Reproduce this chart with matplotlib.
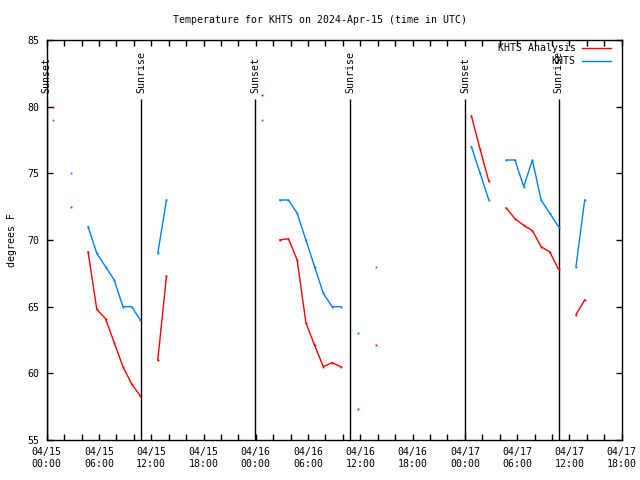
import numpy as np
import pandas as pd
import matplotlib
matplotlib.use("Agg")
import matplotlib.pyplot as plt
import matplotlib.dates as mdates

# hourly data, first point 2024-04-15 00:45 UTC (nan = missing)
nan = np.nan
times = pd.date_range("2024-04-15 00:45", periods=62, freq="h")

khts = [79, nan, 75, nan, 71, 69, 68, 67, 65, 65, 64, nan, 69, 73,
        nan, nan, nan, nan, nan, nan, nan, nan, nan, nan,
        79, nan, 73, 73, 72, 70, 68, 66, 65, 65, nan, 63, nan, 68,
        nan, nan, nan, nan, nan, nan, nan, nan, nan, nan,
        77, 75, 73, nan, 76, 76, 74, 76, 73, 72, 71, nan, 68, 73]

analysis = [80.0, nan, 72.5, nan, 69.1, 64.8, 64.1, 62.3, 60.5, 59.2, 58.3, nan, 61.0, 67.3,
            nan, nan, nan, nan, nan, nan, nan, nan, nan, nan,
            80.9, nan, 70.0, 70.1, 68.5, 63.8, 62.1, 60.5, 60.8, 60.5, nan, 57.3, nan, 62.1,
            nan, nan, nan, nan, nan, nan, nan, nan, nan, nan,
            79.3, 76.8, 74.4, nan, 72.4, 71.6, 71.1, 70.7, 69.5, 69.1, 67.8, nan, 64.4, 65.5]

sun_times = pd.to_datetime(["2024-04-15 00:01", "2024-04-15 10:49",
                            "2024-04-15 23:57", "2024-04-16 10:50",
                            "2024-04-17 00:03", "2024-04-17 10:46"])
sun_labels = ["Sunset", "Sunrise", "Sunset", "Sunrise", "Sunset", "Sunrise"]

font = "DejaVu Sans Mono"
fs = 7.1
plt.rcParams["font.family"] = font
plt.rcParams["font.size"] = fs

fig = plt.figure(figsize=(6.4, 4.8), dpi=100)
ax = fig.add_axes([46.7 / 640, 40 / 480, 575 / 640, 400 / 480])

# sunrise / sunset markers
ax.vlines(sun_times, 55, 80.55, color="black", lw=1.0)
for t, lab in zip(sun_times, sun_labels):
    ax.text(t, 81.05, lab, rotation=90, ha="center", va="bottom", fontsize=fs)

red = "#ff0000"
blue = "#0080ff"
ax.plot(times, analysis, color=red, lw=1.0, label="KHTS Analysis")
ax.plot(times, khts, color=blue, lw=1.0, label="KHTS")
# single hours between gaps show up as dots
ax.plot(times, analysis, ls="none", marker="s", ms=1.3, mew=0, color=red)
ax.plot(times, khts, ls="none", marker="s", ms=1.3, mew=0, color=blue)

ax.set_xlim(pd.Timestamp("2024-04-15 00:00"), pd.Timestamp("2024-04-17 18:00"))
ax.set_ylim(55, 85)
ax.set_yticks(np.arange(55, 86, 5))

ax.xaxis.set_major_locator(mdates.HourLocator(byhour=[0, 6, 12, 18]))
ax.xaxis.set_minor_locator(mdates.HourLocator(interval=2))
ax.xaxis.set_major_formatter(mdates.DateFormatter("%m/%d\n%H:%M"))

ax.tick_params(which="both", direction="in", top=True, right=True,
               length=4, width=1, labelsize=fs, pad=5)
for s in ax.spines.values():
    s.set_linewidth(1.0)

ax.set_ylabel("degrees F", fontsize=fs, labelpad=8)
fig.text(0.5, 1 - 20 / 480, "Temperature for KHTS on 2024-Apr-15 (time in UTC)",
         ha="center", va="center", fontsize=fs)

ax.legend(loc="upper right", bbox_to_anchor=(611 / 640, 1 - 43 / 480),
          bbox_transform=fig.transFigure, frameon=False, markerfirst=False,
          handlelength=2.9, handletextpad=0.7, labelspacing=0.3,
          borderpad=0, borderaxespad=0, fontsize=fs)

fig.savefig("out.png", dpi=100)
